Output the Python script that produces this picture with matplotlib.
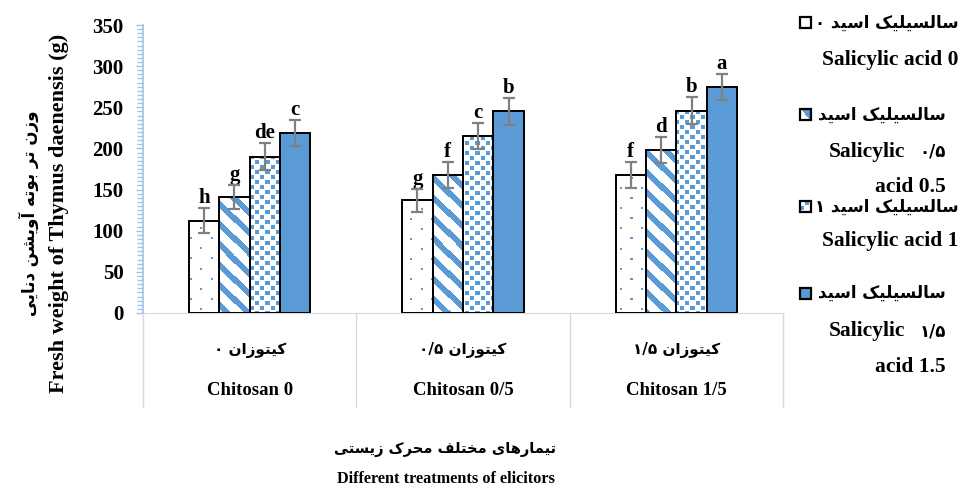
import re
import numpy as np
import matplotlib
matplotlib.use('Agg')
import matplotlib.pyplot as plt
from matplotlib.patches import Rectangle

# Fresh weight per chitosan level (groups) and salicylic acid level (bars)
groups_en = ['Chitosan 0', 'Chitosan 0/5', 'Chitosan 1/5']
groups_fa = ['کیتوزان ۰', 'کیتوزان ۰/۵', 'کیتوزان ۱/۵']
sa0 = [112, 137, 168]
sa05 = [141, 168, 198]
sa1 = [190, 215, 246]
sa15 = [219, 245, 275]
err0 = [15, 14, 16]
err05 = [15, 16, 16]
err1 = [16, 16, 16]
err15 = [16, 16, 16]
letters0 = ['h', 'g', 'f']
letters05 = ['g', 'f', 'd']
letters1 = ['de', 'c', 'b']
letters15 = ['c', 'b', 'a']
yticks = [0, 50, 100, 150, 200, 250, 300, 350]

BLUE = '#5B9BD5'
SERIF = 'Liberation Serif'
FA_FONT = ['DejaVu Sans']

# --- minimal Persian shaping (presentation forms + visual order) ---
FORMS = {
    'ا': ('\uFE8D', '\uFE8E', None, None),
    'آ': ('\uFE81', '\uFE82', None, None),
    'ب': ('\uFE8F', '\uFE90', '\uFE91', '\uFE92'),
    'ت': ('\uFE95', '\uFE96', '\uFE97', '\uFE98'),
    'ح': ('\uFEA1', '\uFEA2', '\uFEA3', '\uFEA4'),
    'خ': ('\uFEA5', '\uFEA6', '\uFEA7', '\uFEA8'),
    'د': ('\uFEA9', '\uFEAA', None, None),
    'ر': ('\uFEAD', '\uFEAE', None, None),
    'ز': ('\uFEAF', '\uFEB0', None, None),
    'س': ('\uFEB1', '\uFEB2', '\uFEB3', '\uFEB4'),
    'ش': ('\uFEB5', '\uFEB6', '\uFEB7', '\uFEB8'),
    'ف': ('\uFED1', '\uFED2', '\uFED3', '\uFED4'),
    'ل': ('\uFEDD', '\uFEDE', '\uFEDF', '\uFEE0'),
    'م': ('\uFEE1', '\uFEE2', '\uFEE3', '\uFEE4'),
    'ن': ('\uFEE5', '\uFEE6', '\uFEE7', '\uFEE8'),
    'ه': ('\uFEE9', '\uFEEA', '\uFEEB', '\uFEEC'),
    'و': ('\uFEED', '\uFEEE', None, None),
    'ی': ('\uFBFC', '\uFBFD', '\uFBFE', '\uFBFF'),
    'ک': ('\uFB8E', '\uFB8F', '\uFB90', '\uFB91'),
}


def shape(text):
    out = []
    for i, c in enumerate(text):
        if c not in FORMS:
            out.append(c)
            continue
        prev = text[i - 1] if i > 0 else ''
        nxt = text[i + 1] if i + 1 < len(text) else ''
        iso, fin, ini, med = FORMS[c]
        jp = prev in FORMS and FORMS[prev][2] is not None
        jn = ini is not None and nxt in FORMS
        if jp and jn:
            out.append(med)
        elif jp:
            out.append(fin)
        elif jn:
            out.append(ini)
        else:
            out.append(iso)
    shaped = ''.join(out)
    toks = [t for t in re.split(r'([۰-۹/]+)', shaped) if t]
    return ''.join(t if re.fullmatch(r'[۰-۹/]+', t) else t[::-1]
                   for t in reversed(toks))


# --- fill patterns drawn as clipped images ---
def pattern_mask(kind, px, py):
    if kind == 'dots':
        return (((px % 20) < 2) & ((py % 20) < 2)) | \
               ((((px + 10) % 20) < 2) & (((py + 10) % 20) < 2))
    if kind == 'stripes':
        return ((px + py) % 20) < 8
    if kind == 'squares':
        return (((px % 10) < 4) & ((py % 10) < 4)) | \
               ((((px + 5) % 10) < 4) & (((py + 5) % 10) < 4))
    return np.zeros_like(px, dtype=bool)


def add_texture(ax, patch, kind):
    x0d, y0d = patch.get_x(), patch.get_y()
    x1d, y1d = x0d + patch.get_width(), y0d + patch.get_height()
    (x0, y0), (x1, y1) = ax.transData.transform([(x0d, y0d), (x1d, y1d)])
    w, h = max(int(round(x1 - x0)), 1), max(int(round(y1 - y0)), 1)
    rr, cc = np.indices((h, w))
    px = cc + int(round(x0))
    py = (h - 1 - rr) + int(round(y0))
    m = pattern_mask(kind, px, py)
    img = np.ones((h, w, 3))
    img[m] = matplotlib.colors.to_rgb(BLUE)
    im = ax.imshow(img, extent=[x0d, x1d, y0d, y1d], origin='upper',
                   interpolation='nearest', aspect='auto', zorder=2.1)
    im.set_clip_path(patch)


W, H = 961, 490
fig = plt.figure(figsize=(W / 100, H / 100), dpi=100)


def fx(x):
    return x / W


def fy(y):
    return 1 - y / H


ax = fig.add_axes([fx(143), fy(313), 640 / W, 288 / H])
ax.set_xlim(-0.5, 2.5)
ax.set_ylim(0, 350)

series = [sa0, sa05, sa1, sa15]
errs = [err0, err05, err1, err15]
letters = [letters0, letters05, letters1, letters15]
kinds = ['dots', 'stripes', 'squares', None]
bw = 0.1425
x = np.arange(len(groups_en))

for k, (vals, e, lab, kind) in enumerate(zip(series, errs, letters, kinds)):
    pos = x + (k - 1.5) * bw
    face = BLUE if kind is None else 'white'
    bars = ax.bar(pos, vals, bw, color=face, edgecolor='none', zorder=2)
    if kind is not None:
        for b in bars:
            add_texture(ax, b, kind)
    ax.bar(pos, vals, bw, fill=False, edgecolor='black', linewidth=1.4, zorder=3)
    ax.errorbar(pos, vals, yerr=e, fmt='none', ecolor='#808080',
                elinewidth=1.6, capsize=4.5, capthick=1.6, zorder=4)
    for xi, v, ei, t in zip(pos, vals, e, lab):
        ax.annotate(t, (xi, v + ei), xytext=(0, 0), textcoords='offset points',
                    ha='center', va='bottom', fontsize=15, fontweight='bold',
                    family=SERIF)

# axes styling
for s in ['top', 'right']:
    ax.spines[s].set_visible(False)
ax.spines['bottom'].set_color('#D9D9D9')
ax.spines['left'].set_color('#9DC3E6')
ax.spines['left'].set_linewidth(1.2)
ax.set_xticks([])
ax.set_yticks(yticks)
ax.set_yticks(np.arange(0, 351, 5), minor=True)
ax.tick_params(axis='y', which='both', colors='#9DC3E6', direction='out')
ax.tick_params(axis='y', which='major', length=5, width=1, pad=9)
ax.tick_params(axis='y', which='minor', length=4, width=1)
for lbl in ax.get_yticklabels():
    lbl.set_color('black')
    lbl.set_fontsize(15)
    lbl.set_fontweight('bold')
    lbl.set_family(SERIF)

# category separators below the axis
xt = ax.get_xaxis_transform()
for xs in [-0.5, 0.5, 1.5, 2.5]:
    ax.plot([xs, xs], [0, -0.325], color='#D9D9D9', lw=1, transform=xt,
            clip_on=False)
for xi, en, fa in zip(x, groups_en, groups_fa):
    ax.text(xi, -0.13, shape(fa), transform=xt, ha='center', va='center',
            fontsize=11, fontweight='bold', family=FA_FONT)
    ax.text(xi, -0.268, en, transform=xt, ha='center', va='center',
            fontsize=13.5, fontweight='bold', family=SERIF)

# axis titles
fig.text(fx(445), fy(449), shape('تیمارهای مختلف محرک زیستی'), ha='center',
         va='center', fontsize=10.5, fontweight='bold', family=FA_FONT)
fig.text(fx(446), fy(479), 'Different treatments of elicitors', ha='center',
         va='center', fontsize=11.7, fontweight='bold', family=SERIF)
fig.text(fx(29), fy(213), shape('وزن تر بوته آویشن دنایی'), ha='center',
         va='center', rotation=90, fontsize=12, fontweight='bold',
         family=FA_FONT)
fig.text(fx(59), fy(213), 'Fresh weight of Thymus daenensis (g)', ha='center',
         va='center', rotation=90, fontsize=16, fontweight='bold', family=SERIF)

# legend drawn as text blocks
legend_rows = [
    (23, None, 'white', 959, 'سالسیلیک اسید ۰',
     [(60, 'Salicylic acid 0', 958)]),
    (115, 'stripes', 'white', 946, 'سالسیلیک اسید',
     [(152, 'Salicylic', 905), (187, 'acid 0.5', 946)]),
    (207, 'squares', 'white', 959, 'سالسیلیک اسید ۱',
     [(241, 'Salicylic acid 1', 958)]),
    (293, None, BLUE, 946, 'سالسیلیک اسید',
     [(331, 'Salicylic', 905), (367, 'acid 1.5', 946)]),
]
sa_nums = {115: ('۰/۵', 152), 293: ('۱/۵', 331)}
for yc, kind, face, xr, fa_txt, en_lines in legend_rows:
    kax = fig.add_axes([fx(800), fy(yc + 5.5), 11 / W, 11 / H])
    kax.set_xlim(0, 1)
    kax.set_ylim(0, 1)
    kax.axis('off')
    r = Rectangle((0, 0), 1, 1, facecolor=face, edgecolor='none', zorder=2)
    kax.add_patch(r)
    if kind is not None:
        add_texture(kax, r, kind)
    kax.add_patch(Rectangle((0, 0), 1, 1, fill=False, edgecolor='black',
                            linewidth=1.6, zorder=3, clip_on=False))
    fig.text(fx(xr), fy(yc), shape(fa_txt), ha='right', va='center',
             fontsize=12, fontweight='bold', family=FA_FONT)
    for yl, txt, xe in en_lines:
        fig.text(fx(xe), fy(yl), txt, ha='right', va='center', fontsize=15.5,
                 fontweight='bold', family=SERIF)
    if yc in sa_nums:
        num, yl = sa_nums[yc]
        fig.text(fx(946), fy(yl), shape(num), ha='right', va='center',
                 fontsize=12, fontweight='bold', family=FA_FONT)

fig.savefig('out.png', dpi=100)
